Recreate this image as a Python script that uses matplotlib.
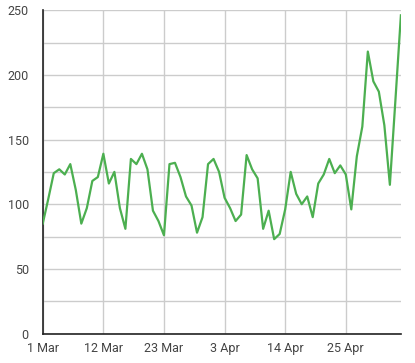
import numpy as np
import pandas as pd
import matplotlib
matplotlib.use('Agg')
import matplotlib.pyplot as plt

plt.rcParams['font.family'] = ['Roboto', 'DejaVu Sans']

start_date = '2024-03-01'
values = [85, 104, 124, 127, 123, 131, 111, 85, 97, 118,
          121, 139, 116, 125, 97, 81, 135, 131, 139, 127,
          95, 87, 76, 131, 132, 121, 106, 99, 78, 90,
          131, 135, 125, 105, 97, 87, 92, 138, 127, 120,
          81, 95, 73, 77, 96, 125, 108, 100, 106, 90,
          116, 123, 135, 124, 130, 123, 96, 137, 160, 218,
          195, 187, 161, 115, 180, 246]
yticks = [0, 50, 100, 150, 200, 250]

dates = pd.date_range(start_date, periods=len(values), freq='D')
days = np.arange(len(values))

fig = plt.figure(figsize=(4.15, 3.63), dpi=100)
ax = fig.add_axes([0.103, 0.081, 0.863, 0.891])
ax.plot(days, values, color='#4caf50', linewidth=1.6, zorder=3)

ax.set_xlim(0, len(values) - 1)
ax.set_ylim(0, 250)
tick_days = days[::11]
ax.set_xticks(tick_days)
ax.set_xticklabels([f'{d.day} {d.strftime("%b")}' for d in dates[tick_days]])
ax.set_yticks(yticks)
ax.set_yticks(np.arange(0, 251, 25), minor=True)
ax.grid(True, which='both', color='#cccccc', linewidth=1)
ax.tick_params(axis='both', which='both', length=0, labelsize=9, colors='#444444', pad=6)
ax.tick_params(axis='y', pad=10)
for s in ['top', 'right']:
    ax.spines[s].set_visible(False)
for s in ['left', 'bottom']:
    ax.spines[s].set_color('#222222')
    ax.spines[s].set_linewidth(1.2)
ax.set_axisbelow(True)

fig.savefig('out.png', dpi=100)
